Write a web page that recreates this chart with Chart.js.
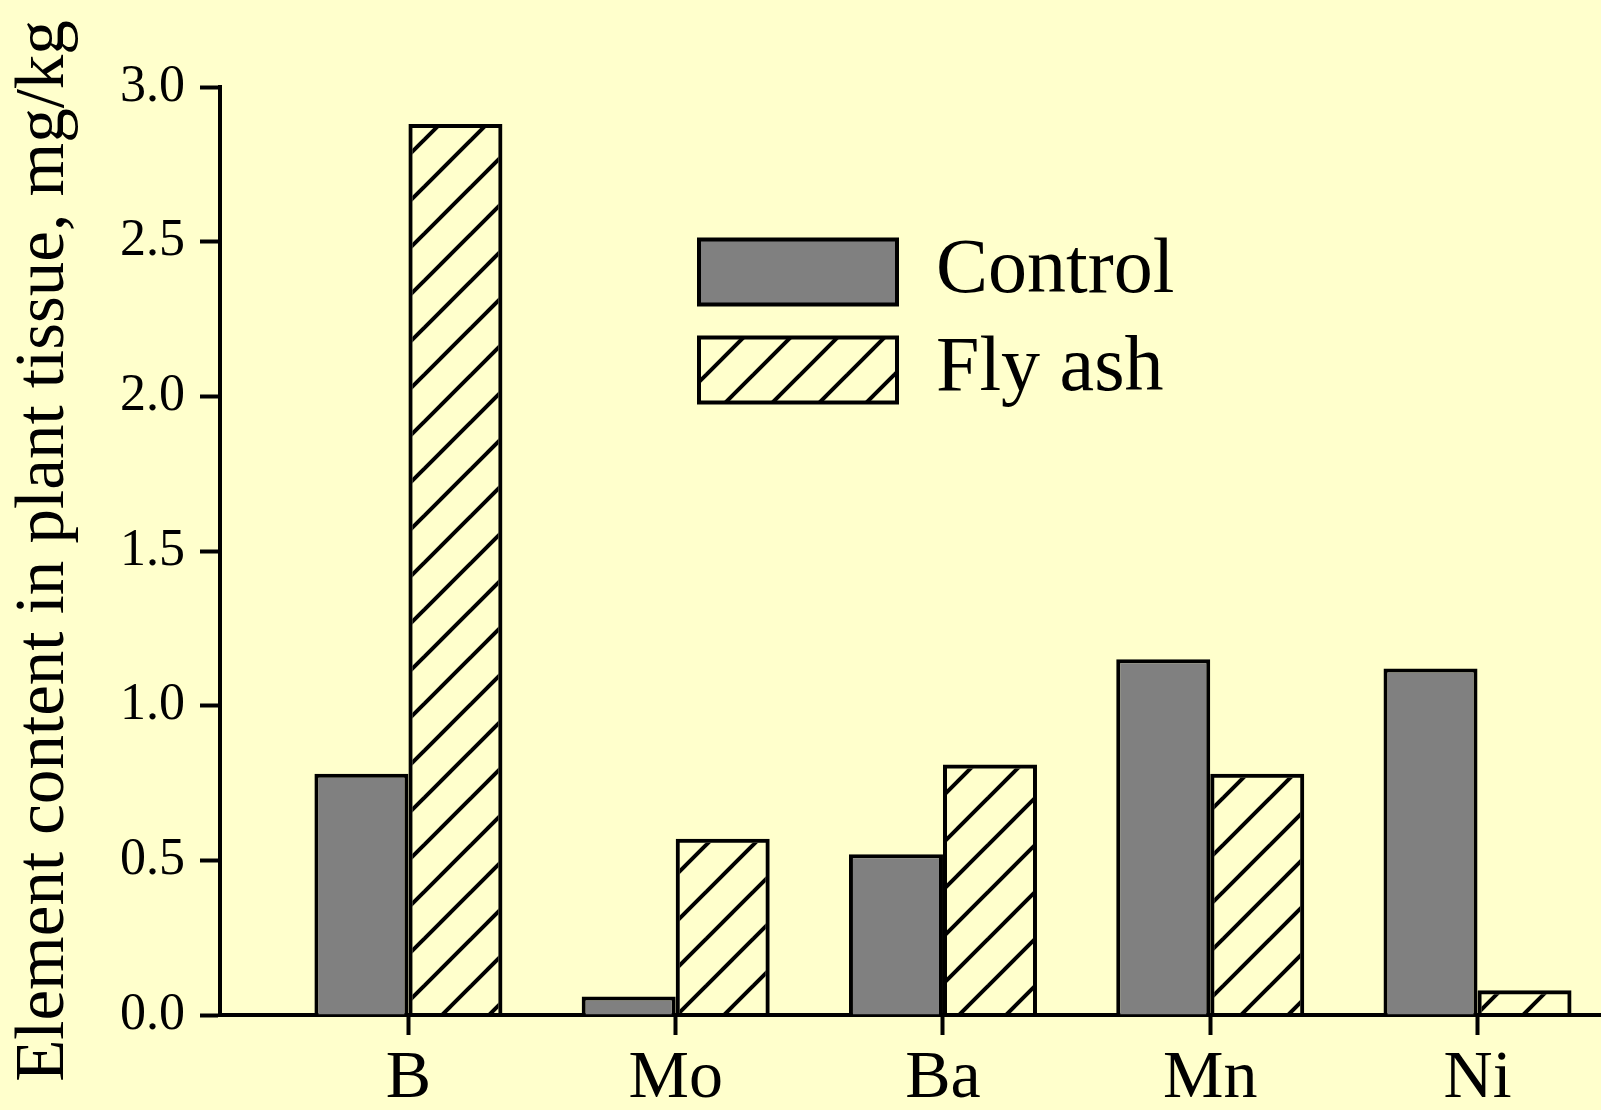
<!DOCTYPE html>
<html>
<head>
<meta charset="utf-8">
<title>Element content in plant tissue</title>
<script src="https://cdn.jsdelivr.net/npm/chart.js@4.4.1/dist/chart.umd.min.js"></script>
<style>
  html, body { margin: 0; padding: 0; background: #ffffcc; }
  #wrap { width: 1601px; height: 1110px; }
</style>
</head>
<body>
<div id="wrap"><canvas id="elemChart" width="1601" height="1110"></canvas></div>
<script>
// data (mg/kg)
const elements = ["B", "Mo", "Ba", "Mn", "Ni"];
const controlValues = [0.78, 0.06, 0.52, 1.15, 1.12];
const flyAshValues = [2.88, 0.57, 0.81, 0.78, 0.08];
const yTicks = [0.0, 0.5, 1.0, 1.5, 2.0, 2.5, 3.0];

Chart.defaults.font.family = "'Liberation Serif', 'Times New Roman', serif";
Chart.defaults.color = "#000";

// "/" hatch used for the fly ash bars
function makeHatch() {
  const size = 47;
  const c = document.createElement("canvas");
  c.width = size;
  c.height = size;
  const g = c.getContext("2d");
  g.strokeStyle = "#000";
  g.lineWidth = 4;
  [0, size, size * 2].forEach(k => {
    g.beginPath();
    g.moveTo(-5, k + 5);
    g.lineTo(k + 5, -5);
    g.stroke();
  });
  return g.createPattern(c, "repeat");
}

// put the legend box where the original has it, inside the plot
const legendSpot = {
  id: "legendSpot",
  afterLayout(chart) {
    const lg = chart.legend;
    lg.left = 679;
    lg.top = 213;
    lg.right = 1450;
    lg.bottom = 650;
  }
};

const ctx = document.getElementById("elemChart");

new Chart(ctx, {
  type: "bar",
  data: {
    datasets: [
      {
        label: "Control",
        data: controlValues.map((v, i) => ({ x: i + 1, y: v })),
        backgroundColor: "#808080",
        borderColor: "#000",
        borderWidth: 4
      },
      {
        label: "Fly ash",
        data: flyAshValues.map((v, i) => ({ x: i + 1, y: v })),
        backgroundColor: makeHatch(),
        borderColor: "#000",
        borderWidth: 4
      }
    ]
  },
  options: {
    responsive: false,
    animation: false,
    devicePixelRatio: 1,
    categoryPercentage: 0.7035,
    barPercentage: 1,
    layout: { padding: { top: 87, left: 0, right: 0, bottom: 0 } },
    plugins: {
      legend: {
        position: "chartArea",
        align: "start",
        labels: {
          boxWidth: 198,
          boxHeight: 65,
          padding: 20,
          color: "#000",
          font: { size: 78 }
        }
      },
      tooltip: { enabled: false }
    },
    scales: {
      x: {
        type: "linear",
        min: 0.295,
        max: 5.462,
        bounds: "data",
        offset: false,
        afterBuildTicks: axis => {
          axis.ticks = elements.map((e, i) => ({ value: i + 1 }));
        },
        afterFit: axis => { axis.height = 95; },
        ticks: {
          callback: v => elements[Math.round(v) - 1],
          font: { size: 68, lineHeight: 1 },
          color: "#000",
          padding: 10,
          maxRotation: 0,
          autoSkip: false
        },
        grid: {
          offset: false,
          drawOnChartArea: false,
          drawTicks: true,
          tickLength: 20,
          tickWidth: 4,
          tickColor: "#000"
        },
        border: { display: true, color: "#000", width: 4 }
      },
      y: {
        min: 0,
        max: 3,
        afterBuildTicks: axis => {
          axis.ticks = yTicks.map(v => ({ value: v }));
        },
        afterFit: axis => { axis.width = 220; },
        ticks: {
          callback: v => v.toFixed(1),
          font: { size: 52 },
          color: "#000",
          padding: 15
        },
        grid: {
          drawOnChartArea: false,
          drawTicks: true,
          tickLength: 20,
          tickWidth: 4,
          tickColor: "#000"
        },
        border: { display: true, color: "#000", width: 4 },
        title: {
          display: true,
          text: "Element content in plant tissue, mg/kg",
          color: "#000",
          font: { size: 69 },
          padding: { top: 3, bottom: 0 }
        }
      }
    }
  },
  plugins: [legendSpot]
});
</script>
</body>
</html>
